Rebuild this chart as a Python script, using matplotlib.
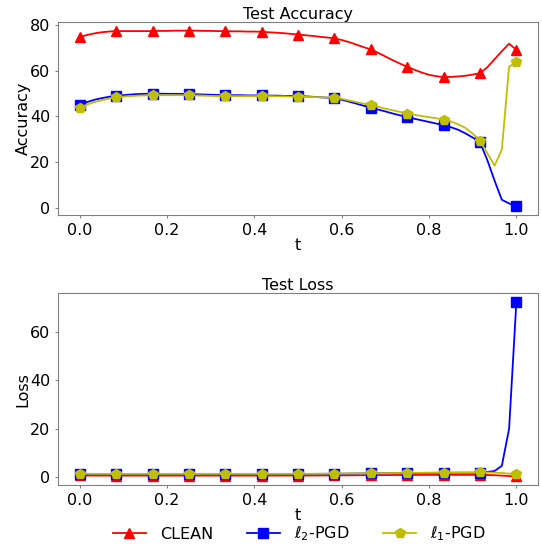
import numpy as np
import matplotlib
matplotlib.use("Agg")
import matplotlib.pyplot as plt

# t grid (61 points, markers every 5th point)
t = np.linspace(0, 1, 61)

acc_clean = [74.7, 75.6, 76.3, 76.8, 77.1, 77.3, 77.3, 77.3, 77.3, 77.3,
             77.3, 77.4, 77.4, 77.5, 77.5, 77.5, 77.5, 77.4, 77.4, 77.3,
             77.3, 77.2, 77.2, 77.1, 77.1, 77.0, 76.8, 76.6, 76.4, 76.1,
             75.8, 75.5, 75.2, 74.8, 74.5, 74.1, 73.4, 72.5, 71.4, 70.3,
             69.3, 67.8, 66.2, 64.6, 63.1, 61.7, 60.4, 59.2, 58.2, 57.6,
             57.2, 57.3, 57.5, 57.8, 58.3, 58.9, 61.5, 65.0, 68.5, 71.8,
             69.1]
acc_l2 = [45.0, 46.3, 47.3, 48.0, 48.6, 49.0, 49.3, 49.6, 49.8, 49.9,
          50.0, 49.95, 49.9, 49.9, 49.85, 49.8, 49.7, 49.6, 49.5, 49.4,
          49.3, 49.3, 49.3, 49.2, 49.2, 49.2, 49.1, 49.1, 49.0, 49.0,
          48.9, 48.8, 48.6, 48.4, 48.2, 47.9, 47.3, 46.5, 45.6, 44.7,
          43.9, 43.0, 42.2, 41.3, 40.5, 39.7, 39.0, 38.3, 37.6, 36.9,
          36.2, 35.3, 34.2, 32.6, 30.8, 28.7, 21.0, 12.0, 3.6, 2.0,
          0.8]
acc_l1 = [43.7, 45.2, 46.3, 47.1, 47.8, 48.3, 48.7, 48.9, 49.1, 49.2,
          49.3, 49.3, 49.3, 49.3, 49.3, 49.3, 49.2, 49.1, 49.0, 48.9,
          48.9, 48.9, 48.9, 48.9, 48.9, 48.9, 48.9, 48.8, 48.8, 48.7,
          48.7, 48.6, 48.5, 48.4, 48.3, 48.2, 47.7, 47.0, 46.3, 45.6,
          45.0, 44.2, 43.4, 42.7, 42.0, 41.3, 40.7, 40.2, 39.7, 39.2,
          38.6, 37.8, 36.6, 35.0, 32.5, 29.4, 24.0, 18.5, 25.5, 61.8,
          63.6]

loss_clean = [0.75, 0.72, 0.71, 0.70, 0.70, 0.70, 0.70, 0.70, 0.70, 0.70,
              0.70, 0.70, 0.70, 0.70, 0.70, 0.70, 0.70, 0.70, 0.70, 0.70,
              0.70, 0.70, 0.70, 0.70, 0.70, 0.70, 0.71, 0.71, 0.72, 0.72,
              0.72, 0.73, 0.74, 0.75, 0.76, 0.77, 0.79, 0.81, 0.83, 0.85,
              0.87, 0.89, 0.91, 0.93, 0.95, 0.97, 0.98, 0.99, 1.00, 1.00,
              1.00, 1.00, 1.00, 1.00, 1.00, 1.00, 0.95, 0.85, 0.70, 0.50,
              0.35]
loss_l2 = [1.45, 1.40, 1.38, 1.36, 1.35, 1.35, 1.35, 1.35, 1.35, 1.35,
           1.35, 1.35, 1.35, 1.35, 1.35, 1.35, 1.35, 1.35, 1.35, 1.35,
           1.35, 1.35, 1.35, 1.35, 1.35, 1.35, 1.36, 1.36, 1.37, 1.37,
           1.38, 1.39, 1.40, 1.42, 1.44, 1.46, 1.49, 1.52, 1.55, 1.58,
           1.61, 1.64, 1.67, 1.70, 1.73, 1.76, 1.78, 1.80, 1.82, 1.84,
           1.86, 1.87, 1.88, 1.89, 1.90, 1.90, 2.2, 2.6, 4.7, 20.0,
           72.2]
loss_l1 = [1.50, 1.45, 1.42, 1.40, 1.40, 1.40, 1.40, 1.40, 1.40, 1.40,
           1.40, 1.40, 1.40, 1.40, 1.40, 1.40, 1.40, 1.40, 1.40, 1.40,
           1.40, 1.40, 1.40, 1.40, 1.40, 1.40, 1.41, 1.41, 1.42, 1.42,
           1.43, 1.44, 1.45, 1.47, 1.49, 1.51, 1.54, 1.57, 1.60, 1.63,
           1.66, 1.69, 1.72, 1.75, 1.78, 1.81, 1.84, 1.87, 1.90, 1.92,
           1.94, 1.96, 1.97, 1.98, 1.99, 2.00, 1.95, 1.90, 1.80, 1.50,
           1.30]

labels = ["CLEAN", r"$\ell_2$-PGD", r"$\ell_1$-PGD"]
styles = [("r", "^"), ("b", "s"), ("y", "p")]
xticks = [0.0, 0.2, 0.4, 0.6, 0.8, 1.0]

fs = 11.5
fig = plt.figure(figsize=(5.42, 5.47), dpi=100)
ax1 = fig.add_axes([0.107, 0.607, 0.886, 0.353])
ax2 = fig.add_axes([0.107, 0.113, 0.886, 0.351])

def style(ax, title, ylabel):
    ax.set_title(title, fontsize=fs, pad=2)
    ax.set_ylabel(ylabel, fontsize=fs, labelpad=0)
    ax.set_xlabel("t", fontsize=fs, labelpad=0)
    ax.set_xticks(xticks)
    ax.tick_params(labelsize=fs, color="gray", length=2.5, pad=3)
    for sp in ax.spines.values():
        sp.set_color("gray")

handles = []
for ys, lab, (c, m) in zip([acc_clean, acc_l2, acc_l1], labels, styles):
    h, = ax1.plot(t, ys, color=c, marker=m, markevery=5, ms=7.5, lw=1.3, label=lab)
    handles.append(h)
for ys, lab, (c, m) in zip([loss_clean, loss_l2, loss_l1], labels, styles):
    ax2.plot(t, ys, color=c, marker=m, markevery=5, ms=7.5, lw=1.3, label=lab)

style(ax1, "Test Accuracy", "Accuracy")
style(ax2, "Test Loss", "Loss")
ax1.set_yticks([0, 20, 40, 60, 80])
ax2.set_yticks([0, 20, 40, 60])
for ax in (ax1, ax2):
    ax.yaxis.set_label_coords(-0.057, 0.5)

fig.legend(handles, labels, loc="center", bbox_to_anchor=(0.552, 0.024),
           ncol=3, frameon=False, fontsize=fs, handlelength=2.1,
           handletextpad=0.85, columnspacing=2.1, borderaxespad=0)

fig.savefig("out.png", dpi=100)
